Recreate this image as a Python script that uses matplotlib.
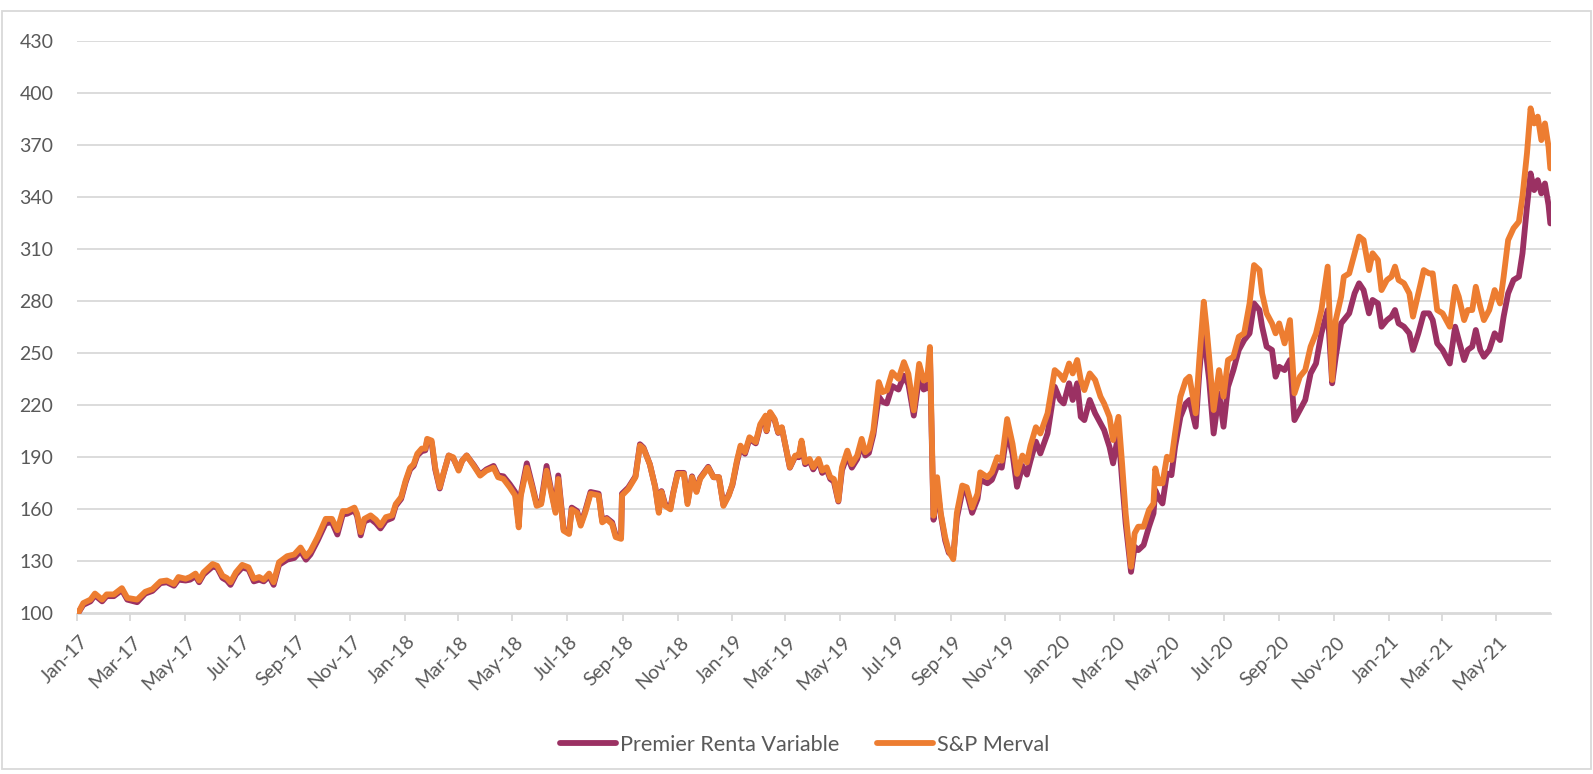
import matplotlib
matplotlib.use("Agg")
import matplotlib.pyplot as plt
import matplotlib.dates as mdates
import matplotlib.transforms as mtransforms
from matplotlib.patches import Rectangle
import pandas as pd

# Values (base 100 = Jan-2017)
dates = [
    "2017-01-02", "2017-01-08", "2017-01-16", "2017-01-21", "2017-01-29", "2017-02-03",
    "2017-02-11", "2017-02-20", "2017-02-26", "2017-03-09", "2017-03-18", "2017-03-26",
    "2017-04-04", "2017-04-11", "2017-04-19", "2017-04-24", "2017-05-02", "2017-05-07",
    "2017-05-13", "2017-05-17", "2017-05-22", "2017-06-01", "2017-06-06", "2017-06-12",
    "2017-06-17", "2017-06-21", "2017-06-27", "2017-07-04", "2017-07-11", "2017-07-17",
    "2017-07-23", "2017-07-28", "2017-08-03", "2017-08-08", "2017-08-14", "2017-08-23",
    "2017-08-31", "2017-09-07", "2017-09-13", "2017-09-18", "2017-09-26", "2017-10-05",
    "2017-10-12", "2017-10-18", "2017-10-24", "2017-10-29", "2017-11-06", "2017-11-09",
    "2017-11-13", "2017-11-17", "2017-11-24", "2017-11-30", "2017-12-05", "2017-12-11",
    "2017-12-18", "2017-12-22", "2017-12-28",
    "2018-01-02", "2018-01-07", "2018-01-11", "2018-01-15", "2018-01-20", "2018-01-24",
    "2018-01-26", "2018-01-31", "2018-02-04", "2018-02-09", "2018-02-13", "2018-02-19",
    "2018-02-24", "2018-03-02", "2018-03-06", "2018-03-11", "2018-03-19", "2018-03-26",
    "2018-04-02", "2018-04-10", "2018-04-15", "2018-04-21", "2018-04-28", "2018-05-04",
    "2018-05-08", "2018-05-10", "2018-05-17", "2018-05-23", "2018-05-28", "2018-06-02",
    "2018-06-08", "2018-06-12", "2018-06-18", "2018-06-21", "2018-06-27", "2018-07-03",
    "2018-07-06", "2018-07-12", "2018-07-16", "2018-07-21", "2018-07-27", "2018-08-05",
    "2018-08-09", "2018-08-14", "2018-08-20", "2018-08-24", "2018-08-30", "2018-08-31",
    "2018-09-07", "2018-09-15", "2018-09-20", "2018-09-24", "2018-10-01", "2018-10-07",
    "2018-10-11", "2018-10-14", "2018-10-18", "2018-10-24", "2018-10-27", "2018-11-01",
    "2018-11-08", "2018-11-12", "2018-11-17", "2018-11-22", "2018-11-26", "2018-12-05",
    "2018-12-11", "2018-12-17", "2018-12-22", "2018-12-28",
    "2019-01-01", "2019-01-06", "2019-01-10", "2019-01-15", "2019-01-20", "2019-01-27",
    "2019-02-01", "2019-02-07", "2019-02-08", "2019-02-12", "2019-02-17", "2019-02-21",
    "2019-02-25", "2019-03-03", "2019-03-06", "2019-03-12", "2019-03-16", "2019-03-19",
    "2019-03-23", "2019-03-28", "2019-04-01", "2019-04-07", "2019-04-11", "2019-04-16",
    "2019-04-20", "2019-04-24", "2019-04-29", "2019-05-03", "2019-05-09", "2019-05-14",
    "2019-05-20", "2019-05-25", "2019-05-29", "2019-06-02", "2019-06-07", "2019-06-13",
    "2019-06-17", "2019-06-22", "2019-06-28", "2019-07-05", "2019-07-11", "2019-07-16",
    "2019-07-22", "2019-07-28", "2019-08-02", "2019-08-06", "2019-08-09", "2019-08-13",
    "2019-08-17", "2019-08-21", "2019-08-26", "2019-08-30", "2019-09-04", "2019-09-08",
    "2019-09-14", "2019-09-19", "2019-09-25", "2019-10-01", "2019-10-04", "2019-10-12",
    "2019-10-17", "2019-10-23", "2019-10-28", "2019-11-03", "2019-11-09", "2019-11-14",
    "2019-11-20", "2019-11-25", "2019-11-29", "2019-12-05", "2019-12-10", "2019-12-18",
    "2019-12-26",
    "2020-01-01", "2020-01-05", "2020-01-11", "2020-01-15", "2020-01-20", "2020-01-24",
    "2020-01-28", "2020-02-03", "2020-02-09", "2020-02-15", "2020-02-19", "2020-02-25",
    "2020-02-29", "2020-03-06", "2020-03-10", "2020-03-14", "2020-03-20", "2020-03-24",
    "2020-03-28", "2020-04-03", "2020-04-09", "2020-04-14", "2020-04-16", "2020-04-20",
    "2020-04-24", "2020-04-29", "2020-05-04", "2020-05-08", "2020-05-14", "2020-05-20",
    "2020-05-24", "2020-05-31", "2020-06-04", "2020-06-09", "2020-06-12", "2020-06-15",
    "2020-06-20", "2020-06-26", "2020-07-01", "2020-07-06", "2020-07-12", "2020-07-18",
    "2020-07-24", "2020-07-30", "2020-08-04", "2020-08-10", "2020-08-13", "2020-08-18",
    "2020-08-24", "2020-08-28", "2020-09-01", "2020-09-07", "2020-09-13", "2020-09-18",
    "2020-09-24", "2020-09-30", "2020-10-06", "2020-10-12", "2020-10-18", "2020-10-25",
    "2020-10-30", "2020-11-03", "2020-11-09", "2020-11-12", "2020-11-18", "2020-11-24",
    "2020-11-29", "2020-12-04", "2020-12-10", "2020-12-14", "2020-12-20", "2020-12-24",
    "2020-12-30",
    "2021-01-04", "2021-01-08", "2021-01-12", "2021-01-18", "2021-01-24", "2021-01-28",
    "2021-02-03", "2021-02-09", "2021-02-15", "2021-02-19", "2021-02-24", "2021-03-02",
    "2021-03-10", "2021-03-16", "2021-03-20", "2021-03-26", "2021-03-30", "2021-04-04",
    "2021-04-08", "2021-04-13", "2021-04-17", "2021-04-23", "2021-04-29", "2021-05-05",
    "2021-05-09", "2021-05-14", "2021-05-20", "2021-05-26", "2021-05-30", "2021-06-04",
    "2021-06-08", "2021-06-12", "2021-06-16", "2021-06-20", "2021-06-24", "2021-06-28",
    "2021-06-30",
]

merval = [
    100, 106, 108, 111.5, 108, 111, 111, 114.6, 109, 108, 112.5, 114,
    118.5, 119, 117, 121, 120, 121, 123, 119, 123.7, 128.5, 127.5, 121.8,
    120.4, 118, 123.7, 128, 126.6, 120, 121, 119.5, 123, 118, 129.5, 133,
    134, 138, 133, 136, 144, 154.5, 154.5, 148, 159, 159, 161, 157.4,
    146.8, 154.5, 156.5, 154, 150.7, 155.5, 156.5, 163, 167,
    176.5, 184, 186, 192, 195, 195, 200.6, 199.6, 184, 172.7, 180.4, 191,
    190, 182.3, 188, 191, 185, 179.4, 182.3, 184, 178.5, 177.5, 172.7, 168,
    149.6, 167, 184, 172.7, 162, 163, 182.3, 172.7, 158, 177.5, 147.7, 145.8,
    160, 158, 150.6, 158, 169, 168, 152.5, 154.4, 151.5, 144, 143, 168,
    171.7, 178.5, 196.7, 195, 186, 172.7, 158, 170, 162, 160, 169, 180.4,
    180.4, 163, 178.5, 170, 177.5, 184, 178.5, 178.5, 162, 168,
    174.6, 188, 196.7, 192.9, 201.5, 198.7, 209, 214, 205.4, 216, 212, 204.4,
    207.3, 192, 184.2, 191, 191, 199.6, 187, 189, 184.2, 189, 182.3, 184.2,
    178.5, 177.5, 165, 184.2, 193.8, 186, 191, 200.6, 192.9, 194.8, 205.4, 233.3,
    227.5, 228.5, 239, 235.2, 244.8, 238, 217, 243.8, 234.2, 235.2, 253.5, 156.3,
    178.5, 158, 143.8, 136, 131.3, 158, 173.7, 172.7, 161, 169, 181.3, 178.5,
    181.3, 190, 188, 212, 197.7, 180.4, 191, 187, 196.7, 207.3, 203.7, 215.3,
    240.2,
    237.4, 234.5, 244, 238.3, 246, 234.5, 228.7, 238.3, 234.5, 224.9, 221, 213.3,
    199.9, 213.3, 186.5, 157.7, 126.9, 146.2, 150, 150, 159.6, 163.4, 183.6, 175,
    175, 190.3, 188.4, 203.7, 224.9, 234.5, 236.4, 215.3, 246, 279.6, 265.2, 247.9,
    217.2, 240.2, 224.9, 246, 247.9, 259.4, 261.4, 278.6, 300.7, 297.8, 284.4, 272.9,
    267.1, 261.4, 267.1, 255.6, 269, 226.8, 236.4, 240.2, 253.7, 261.4, 274.8, 299.8,
    234.5, 269, 282.5, 294, 295.9, 307.5, 317.1, 315.1, 297.8, 307.5, 303.6, 286.3,
    292.1,
    294, 299.8, 292.1, 290.2, 284.4, 271, 284.4, 297.8, 295.9, 295.9, 274.8, 272.9,
    265.2, 288.2, 282.5, 269, 274.8, 274.8, 288.2, 276.7, 269, 274.8, 286.3, 278.6,
    294, 315.1, 321.9, 325.7, 340.1, 365.1, 391, 382.3, 386.2, 372.7, 382.3, 368.9,
    356.4,
]

premier = [
    100, 105, 107, 110.5, 107, 110, 110, 113.5, 108, 106.5, 111.5, 113,
    117.5, 118, 116, 119.5, 119, 119.5, 121.5, 118, 122.5, 127, 126.5, 120.5,
    119, 116.5, 122.5, 126.5, 125.5, 118.5, 119.5, 118.5, 121.5, 116.5, 128, 131,
    132, 136, 131, 134, 142, 152, 152.5, 145.5, 157, 157.5, 159.5, 156,
    145, 153, 154.5, 152, 149, 153.5, 155, 162, 166,
    175.5, 183, 185, 191, 193.5, 194, 199.5, 198.5, 183, 172, 180, 191,
    189.5, 183, 188, 191, 185.5, 180, 183, 185, 179.5, 179, 174.5, 170,
    152, 168, 186.5, 174, 163, 164, 185, 174, 159, 179.5, 148.5, 146.5,
    161, 159, 151.5, 159, 170, 169, 153.5, 155, 152.5, 145, 144, 169,
    172.5, 179, 197.5, 195.5, 186, 173, 159, 170.5, 163, 161, 169.5, 181,
    181, 164, 179, 170.5, 178, 184.5, 178.5, 178.5, 162.5, 168.5,
    174, 187, 195.5, 192, 200.5, 198, 208, 213, 205, 215.5, 211.5, 204,
    207, 191.5, 184, 190.5, 190, 198.5, 186, 188, 183, 188, 181, 183,
    177.5, 176, 164.5, 182.5, 191, 184, 189, 198, 191, 192.5, 203, 225,
    222, 221, 231, 229, 237, 232, 214, 236, 229, 230, 249, 154,
    173, 157, 142, 135, 133, 155, 170, 170, 158, 166, 177, 175,
    177, 185, 184, 205, 192, 173, 185, 180, 188, 199, 192.2, 203.7,
    230.6,
    223, 221, 232.6, 223, 232.6, 213.3, 211.4, 223, 215.3, 209.5, 205.7, 196,
    186.5, 203.7, 176.9, 151.9, 124, 138.5, 136.5, 139.4, 150, 157.7, 171, 166.3,
    163.4, 180.7, 179.7, 196, 213.3, 221, 223, 207.6, 238.3, 269, 247.9, 234.5,
    203.7, 226.8, 207.6, 230.6, 240.2, 251.8, 257.5, 261.4, 278.6, 274.8, 265.2, 253.7,
    251.8, 236.4, 242.1, 240.2, 246, 211.4, 217.2, 223, 238.3, 244, 261.4, 274.8,
    232.6, 247.9, 267.1, 269, 272.9, 284.4, 290.2, 286.3, 272.9, 280.6, 278.6, 265.2,
    269,
    271, 274.8, 267.1, 265.2, 261.4, 251.8, 261.4, 272.9, 272.9, 269, 255.6, 251.8,
    244, 265.2, 257.5, 246, 251.8, 253.7, 263.3, 251.8, 247.9, 251.8, 261.4, 257.5,
    271, 284.4, 292.1, 294, 307.5, 334.3, 353.5, 343.9, 349.6, 342, 347.7, 335.3,
    324.7,
]

series_names = ["Premier Renta Variable", "S&P Merval"]
series_colors = ["#9B3163", "#ED7D31"]
y_ticks = [100, 130, 160, 190, 220, 250, 280, 310, 340, 370, 400, 430]

TEXT = "#595959"
GRID = "#D9D9D9"

plt.rcParams["font.family"] = ["Lato", "DejaVu Sans"]

df = pd.DataFrame({"date": pd.to_datetime(dates), "premier": premier, "merval": merval})

fig = plt.figure(figsize=(15.93, 7.74), dpi=100)
ax = fig.add_axes([77 / 1593, 1 - 613.5 / 774, (1551 - 77) / 1593, (613.5 - 40.6) / 774])

ax.plot(df["date"], df["premier"], color=series_colors[0], lw=4.2,
        solid_joinstyle="round", solid_capstyle="round", label=series_names[0], zorder=3)
ax.plot(df["date"], df["merval"], color=series_colors[1], lw=4.2,
        solid_joinstyle="round", solid_capstyle="round", label=series_names[1], zorder=4)

ax.set_ylim(100, 430)
ax.set_yticks(y_ticks)
ax.set_xlim(pd.Timestamp("2017-01-01"), pd.Timestamp("2021-06-30 18:00"))
ax.xaxis.set_major_locator(mdates.MonthLocator(bymonth=[1, 3, 5, 7, 9, 11]))
ax.xaxis.set_major_formatter(mdates.DateFormatter("%b-%y"))

ax.grid(axis="y", color=GRID, lw=1.3, zorder=0)
ax.set_axisbelow(True)
for side in ["top", "right", "left"]:
    ax.spines[side].set_visible(False)
ax.spines["bottom"].set_color(GRID)
ax.spines["bottom"].set_linewidth(1.3)

ax.tick_params(axis="y", length=0, pad=17, labelsize=14, labelcolor=TEXT)
ax.tick_params(axis="x", length=5, width=1.3, color=GRID, pad=9, labelsize=14, labelcolor=TEXT)
shift = mtransforms.ScaledTranslation(2 / 100, 0, fig.dpi_scale_trans)
for lbl in ax.get_xticklabels():
    lbl.set_rotation(45)
    lbl.set_ha("right")
    lbl.set_va("top")
    lbl.set_rotation_mode("anchor")
    lbl.set_transform(lbl.get_transform() + shift)

fig.legend(loc="center", bbox_to_anchor=(0.505, 0.038), ncol=2, frameon=False,
           fontsize=15.6, labelcolor=TEXT, handlelength=2.6, handletextpad=0.15,
           columnspacing=1.75)

# light frame around the whole chart
fig.add_artist(Rectangle((1.5 / 1593, 1 - 769 / 774), 1 - 3.5 / 1593, (769 - 11) / 774,
                         transform=fig.transFigure, fill=False, edgecolor=GRID, lw=1.3))

fig.savefig("out.png", dpi=100, facecolor="white")
